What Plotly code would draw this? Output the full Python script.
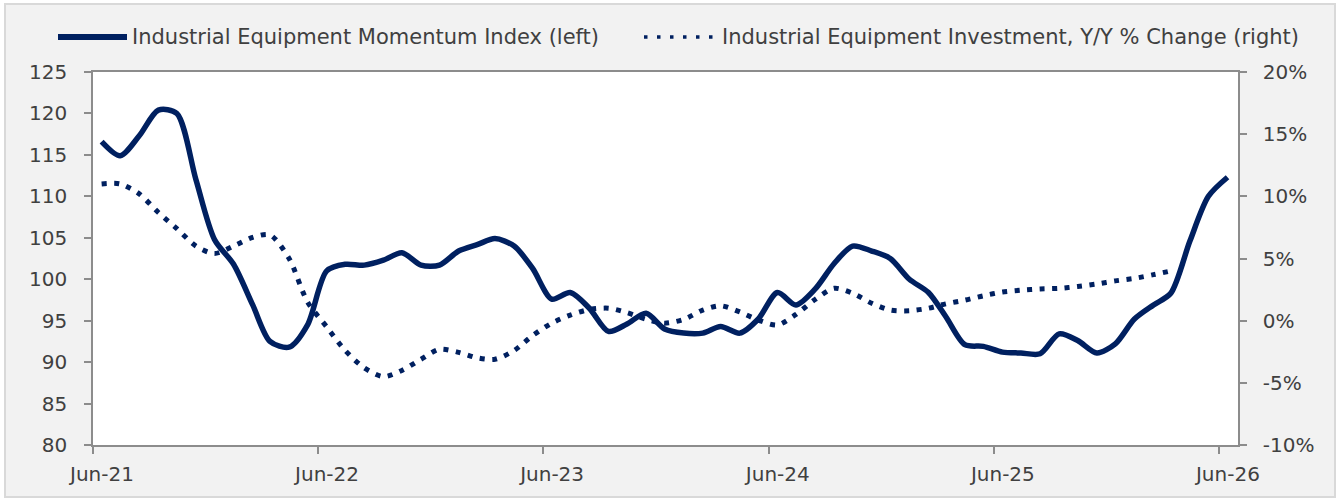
import pandas as pd
import plotly.graph_objects as go

# ---------------- data ----------------
start_month = "2021-06-01"
momentum_index = [
    116.6, 114.9, 117.3, 120.4, 120.0, 112.0, 104.8, 101.8, 96.9, 92.5,
    91.8, 94.5, 101.0, 101.8, 101.7, 102.3, 103.2, 101.7, 101.7, 103.4,
    104.2, 104.9, 104.0, 101.3, 97.6, 98.4, 96.5, 93.7, 94.6, 95.9,
    94.0, 93.5, 93.5, 94.3, 93.5, 95.2, 98.4, 96.9, 98.8, 101.9,
    104.0, 103.4, 102.5, 100.0, 98.4, 95.5, 92.1, 91.9, 91.2, 91.1,
    91.0, 93.4, 92.6, 91.1, 92.2, 95.2, 96.9, 98.3, 104.6, 110.0,
    112.3,
]
investment_yoy = [
    11.0, 11.0, 10.2, 8.7, 7.4, 6.0, 5.4, 6.0, 6.7, 6.9,
    5.0, 1.5, -0.5, -2.4, -3.8, -4.5, -4.0, -3.1, -2.3, -2.55,
    -3.0, -3.1, -2.4, -1.2, -0.2, 0.45, 0.9, 1.0, 0.65, 0.12,
    -0.2, 0.1, 0.85, 1.2, 0.7, 0.05, -0.35, 0.5, 1.7, 2.6,
    2.2, 1.4, 0.85, 0.8, 1.0, 1.35, 1.65, 2.0, 2.3, 2.45,
    2.55, 2.6, 2.75, 2.95, 3.2, 3.4, 3.7, 4.0,
]
tick_dates = ["2021-06-01", "2022-06-01", "2023-06-01", "2024-06-01", "2025-06-01", "2026-06-01"]
tick_labels = ["Jun-21", "Jun-22", "Jun-23", "Jun-24", "Jun-25", "Jun-26"]
left_ticks = [80, 85, 90, 95, 100, 105, 110, 115, 120, 125]
right_ticks = [-10, -5, 0, 5, 10, 15, 20]
right_labels = ["-10%", "-5%", "0%", "5%", "10%", "15%", "20%"]
series_names = [
    "Industrial Equipment Momentum Index (left)",
    "Industrial Equipment Investment, Y/Y % Change (right)",
]

# points plotted mid-month
month_starts = pd.date_range(start_month, periods=len(momentum_index), freq="MS")
x_mid = month_starts + pd.Timedelta(days=14)

NAVY = "#002060"
AXIS = "#8c8c8c"
TEXT = "#404040"
FONT = "DejaVu Sans"

W, H = 1338, 500
L, R, T, B = 93, 100, 72, 55
PW, PH = W - L - R, H - T - B


def px_x(p):
    return (p - L) / PW


def px_y(p):
    return (H - B - p) / PH


fig = go.Figure()
fig.add_trace(go.Scatter(
    x=x_mid, y=momentum_index, mode="lines", name=series_names[0],
    line=dict(color=NAVY, width=5.5, shape="spline", smoothing=0.8),
    yaxis="y", showlegend=False,
))
fig.add_trace(go.Scatter(
    x=x_mid[:len(investment_yoy)], y=investment_yoy, mode="lines", name=series_names[1],
    line=dict(color=NAVY, width=5, dash="5px,7.5px", shape="spline", smoothing=0.8),
    yaxis="y2", showlegend=False,
))

shapes = [
    # outer grey frame
    dict(type="rect", xref="paper", yref="paper",
         x0=px_x(5), x1=px_x(1335), y0=px_y(497), y1=px_y(4),
         fillcolor="#f2f2f2", line=dict(color="#d9d9d9", width=2), layer="below"),
    # white plot area
    dict(type="rect", xref="paper", yref="paper", x0=0, x1=1, y0=0, y1=1,
         fillcolor="white", line=dict(width=0), layer="below"),
    # legend symbols
    dict(type="line", xref="paper", yref="paper",
         x0=px_x(58), x1=px_x(127), y0=px_y(37), y1=px_y(37),
         line=dict(color=NAVY, width=6)),
    dict(type="line", xref="paper", yref="paper",
         x0=px_x(644), x1=px_x(714), y0=px_y(37), y1=px_y(37),
         line=dict(color=NAVY, width=3.5, dash="3.5px,9.5px")),
]
annotations = [
    dict(xref="paper", yref="paper", x=px_x(130), y=px_y(37), text=series_names[0],
         showarrow=False, xanchor="left", yanchor="middle",
         font=dict(family=FONT, size=21, color=TEXT)),
    dict(xref="paper", yref="paper", x=px_x(720), y=px_y(37), text=series_names[1],
         showarrow=False, xanchor="left", yanchor="middle",
         font=dict(family=FONT, size=21, color=TEXT)),
]

fig.update_layout(
    width=W, height=H,
    margin=dict(l=L, r=R, t=T, b=B, pad=0),
    paper_bgcolor="white",
    plot_bgcolor="rgba(0,0,0,0)",
    font=dict(family=FONT, size=20, color=TEXT),
    shapes=shapes,
    annotations=annotations,
    showlegend=False,
    xaxis=dict(
        type="date",
        range=["2021-06-01", "2026-07-02"],
        tickvals=tick_dates, ticktext=tick_labels,
        showgrid=False, zeroline=False,
        showline=True, linecolor=AXIS, linewidth=1.5, mirror=True,
        ticks="outside", ticklen=7, tickwidth=1.5, tickcolor=AXIS,
        ticklabelshift=9, ticklabelstandoff=3,
        tickfont=dict(family=FONT, size=20, color=TEXT),
    ),
    yaxis=dict(
        range=[80, 125], tickvals=left_ticks,
        showgrid=False, zeroline=False,
        showline=True, linecolor=AXIS, linewidth=1.5,
        ticks="outside", ticklen=7, tickwidth=1.5, tickcolor=AXIS,
        ticklabelstandoff=13,
        tickfont=dict(family=FONT, size=20, color=TEXT),
    ),
    yaxis2=dict(
        range=[-10, 20], tickvals=right_ticks, ticktext=right_labels,
        overlaying="y", side="right",
        showgrid=False, zeroline=False,
        showline=True, linecolor=AXIS, linewidth=1.5,
        ticks="outside", ticklen=7, tickwidth=1.5, tickcolor=AXIS,
        ticklabelstandoff=12,
        tickfont=dict(family=FONT, size=20, color=TEXT),
    ),
)

fig.write_html("out.html", config={"displayModeBar": False},
               post_script="document.body.style.margin='0';")
